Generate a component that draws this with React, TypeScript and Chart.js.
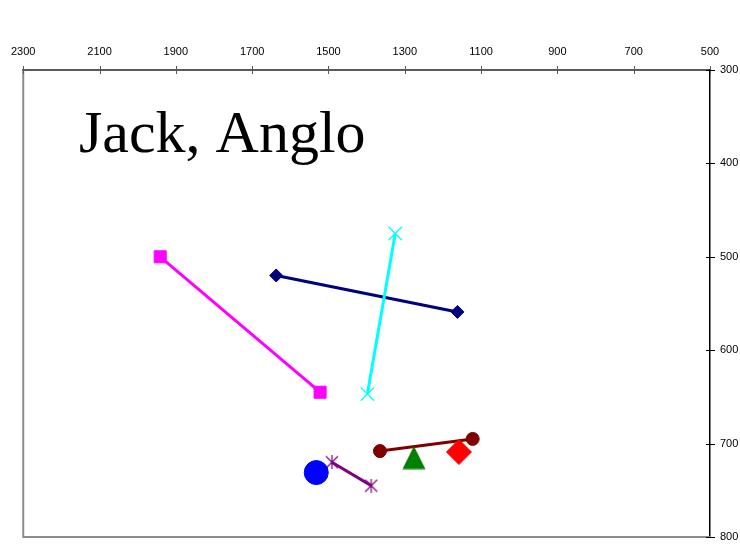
import React, { useEffect, useRef } from "react";
import { Chart, registerables } from "chart.js";

Chart.register(...registerables);

// Axis ticks
const xTicks = [2300, 2100, 1900, 1700, 1500, 1300, 1100, 900, 700, 500];
const yTicks = [300, 400, 500, 600, 700, 800];
const titleText = "Jack, Anglo";

// Series values (F2 on x, F1 on y)
const magentaF2 = [1941, 1522];
const magentaF1 = [500, 645];
const navyF2 = [1637, 1162];
const navyF1 = [520, 559];
const cyanF2 = [1325, 1398];
const cyanF1 = [475, 647];
const maroonF2 = [1365, 1122];
const maroonF1 = [708, 695];
const greenF2 = [1276];
const greenF1 = [715];
const redF2 = [1158];
const redF1 = [709];
const blueF2 = [1532];
const blueF1 = [731];
const purpleF2 = [1491, 1388];
const purpleF1 = [720, 745];

const pts = (xs: number[], ys: number[]) => xs.map((x, i) => ({ x, y: ys[i] }));

function makeTriangle(color: string) {
  const c = document.createElement("canvas");
  c.width = 24;
  c.height = 24;
  const g = c.getContext("2d")!;
  g.fillStyle = color;
  g.beginPath();
  g.moveTo(0.5, 23.5);
  g.lineTo(12, 0.5);
  g.lineTo(23.5, 23.5);
  g.closePath();
  g.fill();
  return c;
}

function makeStar(color: string) {
  const c = document.createElement("canvas");
  c.width = 14;
  c.height = 14;
  const g = c.getContext("2d")!;
  g.strokeStyle = color;
  g.lineWidth = 1.2;
  g.beginPath();
  g.moveTo(1, 1);
  g.lineTo(13, 13);
  g.moveTo(13, 1);
  g.lineTo(1, 13);
  g.moveTo(7, 0);
  g.lineTo(7, 14);
  g.stroke();
  return c;
}

export default function App() {
  const ref = useRef<HTMLCanvasElement | null>(null);

  useEffect(() => {
    if (!ref.current) return;
    Chart.defaults.font.family = '"Liberation Sans", Arial, sans-serif';
    Chart.defaults.color = "#000";

    const tri = makeTriangle("#008000");
    const star = makeStar("#800080");

    const framePlugin = {
      id: "frame",
      beforeDatasetsDraw(chart: any) {
        const { ctx, chartArea: a } = chart;
        ctx.save();
        ctx.strokeStyle = "#8c8c8c";
        ctx.lineWidth = 2;
        ctx.beginPath();
        ctx.moveTo(a.left, a.top);
        ctx.lineTo(a.left, a.bottom);
        ctx.lineTo(a.right, a.bottom);
        ctx.stroke();
        // cross tick marks
        const xs = chart.scales.x;
        const ys = chart.scales.y;
        ctx.lineWidth = 1;
        ctx.strokeStyle = "#595959";
        ctx.beginPath();
        xTicks.forEach((v) => {
          const px = Math.round(xs.getPixelForValue(v)) + 0.5;
          ctx.moveTo(px, a.top - 4);
          ctx.lineTo(px, a.top + 4);
        });
        ctx.stroke();
        ctx.strokeStyle = "#000";
        ctx.beginPath();
        yTicks.forEach((v) => {
          const py = Math.round(ys.getPixelForValue(v)) + 0.5;
          ctx.moveTo(a.right - 4, py);
          ctx.lineTo(a.right + 5, py);
        });
        ctx.stroke();
        ctx.restore();
      },
      afterDraw(chart: any) {
        const { ctx } = chart;
        ctx.save();
        ctx.font = '60px "Liberation Serif", "Times New Roman", serif';
        ctx.fillStyle = "#000";
        ctx.textBaseline = "alphabetic";
        ctx.textAlign = "left";
        ctx.fillText(titleText, 79, 152);
        ctx.restore();
      },
    };

    const chart = new Chart(ref.current, {
      type: "scatter",
      data: {
        datasets: [
          {
            data: pts(redF2, redF1),
            pointStyle: "rectRot",
            pointRadius: 12.5,
            backgroundColor: "#FF0000",
            borderColor: "#FF0000",
            pointBorderWidth: 1,
          },
          {
            data: pts(greenF2, greenF1),
            pointStyle: tri as any,
            pointRadius: 12,
            backgroundColor: "#008000",
            borderColor: "#008000",
          },
          {
            data: pts(maroonF2, maroonF1),
            showLine: true,
            pointStyle: "circle",
            pointRadius: 6.5,
            backgroundColor: "#800000",
            borderColor: "#800000",
            borderWidth: 3,
            pointBorderWidth: 1,
          },
          {
            data: pts(cyanF2, cyanF1),
            showLine: true,
            pointStyle: "crossRot",
            pointRadius: 9.5,
            backgroundColor: "#00FFFF",
            borderColor: "#00FFFF",
            borderWidth: 3,
            pointBorderWidth: 1.3,
          },
          {
            data: pts(navyF2, navyF1),
            showLine: true,
            pointStyle: "rectRot",
            pointRadius: 6.5,
            backgroundColor: "#000080",
            borderColor: "#000080",
            borderWidth: 3,
            pointBorderWidth: 1,
          },
          {
            data: pts(magentaF2, magentaF1),
            showLine: true,
            pointStyle: "rect",
            pointRadius: 8.5,
            backgroundColor: "#FF00FF",
            borderColor: "#FF00FF",
            borderWidth: 3,
            pointBorderWidth: 1,
          },
          {
            data: pts(blueF2, blueF1),
            pointStyle: "circle",
            pointRadius: 12,
            backgroundColor: "#0000FF",
            borderColor: "#0000FF",
            pointBorderWidth: 1,
          },
          {
            data: pts(purpleF2, purpleF1),
            showLine: true,
            pointStyle: star as any,
            pointRadius: 7,
            backgroundColor: "#800080",
            borderColor: "#800080",
            borderWidth: 3,
          },
        ],
      },
      options: {
        animation: false,
        responsive: false,
        events: [],
        layout: { autoPadding: false, padding: { left: 23, right: 0, top: 0, bottom: 7 } },
        plugins: {
          legend: { display: false },
          tooltip: { enabled: false },
          title: { display: false },
        },
        scales: {
          x: {
            type: "linear",
            position: "top",
            reverse: true,
            min: 500,
            max: 2300,
            afterBuildTicks: (s: any) => {
              s.ticks = xTicks.map((v) => ({ value: v }));
            },
            afterFit: (s: any) => {
              s.height = 70;
            },
            grid: { drawOnChartArea: false, drawTicks: false },
            border: { display: true, color: "#595959", width: 2 },
            ticks: {
              autoSkip: false,
              maxRotation: 0,
              padding: 11,
              font: { size: 11 },
              color: "#000",
              callback: (v: any) => String(v),
            },
          },
          y: {
            type: "linear",
            position: "right",
            reverse: true,
            min: 300,
            max: 800,
            afterBuildTicks: (s: any) => {
              s.ticks = yTicks.map((v) => ({ value: v }));
            },
            afterFit: (s: any) => {
              s.width = 30;
            },
            grid: {
              drawOnChartArea: false,
              drawTicks: true,
              tickLength: 10,
              tickColor: "rgba(0,0,0,0)",
            },
            border: { display: true, color: "#000", width: 1.5 },
            ticks: {
              autoSkip: false,
              padding: 0,
              font: { size: 11 },
              color: "#000",
              callback: (v: any) => String(v),
            },
          },
        },
      },
      plugins: [framePlugin],
    } as any);

    return () => chart.destroy();
  }, []);

  return (
    <div style={{ position: "absolute", left: 0, top: 0, width: 740, height: 544, background: "#fff" }}>
      <canvas ref={ref} width={740} height={544} style={{ display: "block" }} />
    </div>
  );
}
